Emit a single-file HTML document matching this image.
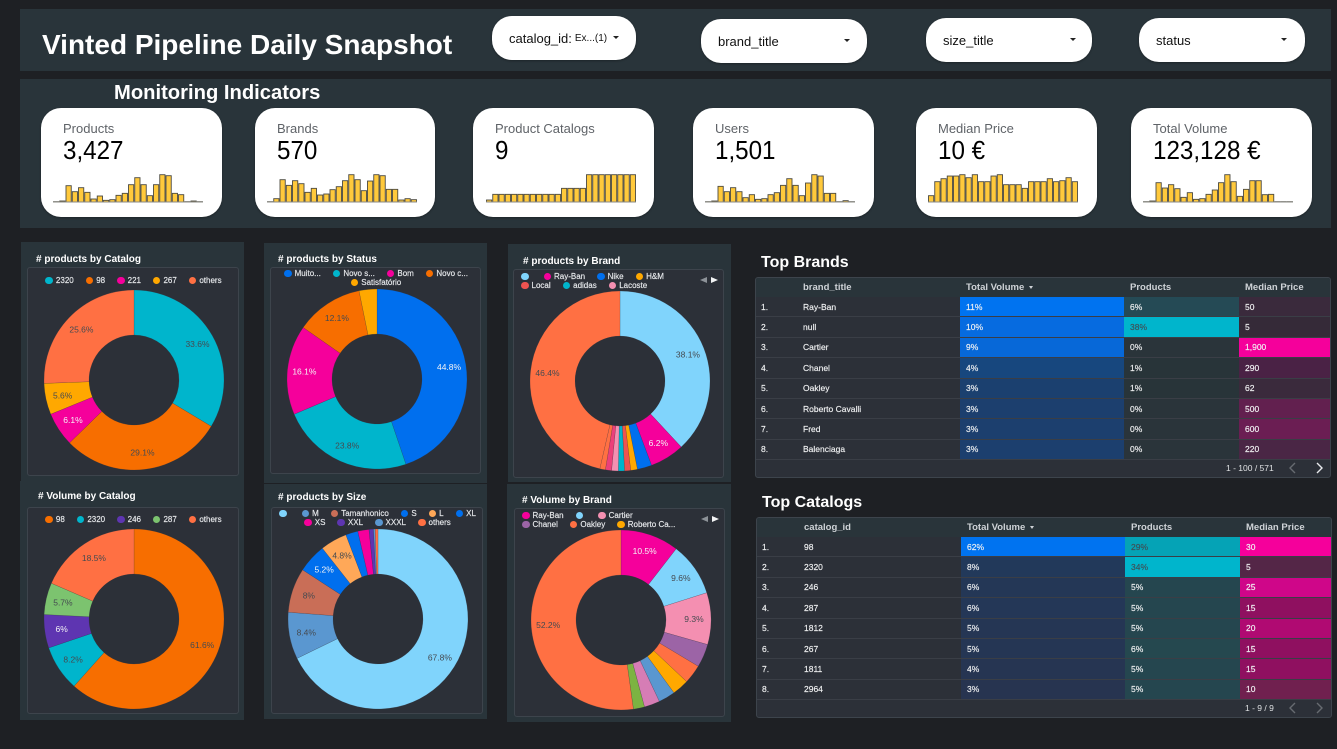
<!DOCTYPE html>
<html lang="en">
<head>
<meta charset="utf-8">
<title>Vinted Pipeline Daily Snapshot</title>
<style>
html,body{margin:0;padding:0;width:1337px;height:749px;overflow:hidden;background:#1e2024;font-family:"Liberation Sans",sans-serif;}
.abs{position:absolute;}
.band{position:absolute;background:#29343a;}
.page-title{position:absolute;left:42px;top:28px;font-size:28px;line-height:34px;font-weight:bold;color:#fff;white-space:nowrap;}
.section-title{position:absolute;left:114px;top:81px;font-size:20.2px;line-height:24px;font-weight:bold;color:#fff;white-space:nowrap;}
.filter{position:absolute;background:#fff;border-radius:20px;color:#111;font-size:13px;box-shadow:0 1px 2px rgba(0,0,0,.3);}
.filter .txt{position:absolute;left:17px;top:0;bottom:0;display:flex;align-items:center;white-space:nowrap;}
.filter .small{font-size:10px;margin-left:3px;}
.caret{position:absolute;width:0;height:0;border-left:3px solid transparent;border-right:3px solid transparent;border-top:3px solid #222;top:50%;margin-top:-2px;}
.card{position:absolute;top:108px;width:181px;height:109px;background:#fff;border-radius:20px;box-shadow:0 1px 2px rgba(0,0,0,.3);}
.card .lbl{position:absolute;left:22px;top:13px;font-size:13px;line-height:15px;color:#5f6368;white-space:nowrap;}
.card .val{position:absolute;left:22px;top:27px;font-size:26px;line-height:30px;color:#000;white-space:nowrap;transform:scaleX(.93);transform-origin:left center;}
.panel{position:absolute;background:#29343a;}
.inner{position:absolute;background:#2c3038;border:1px solid #3d444c;border-radius:3px;box-sizing:border-box;}
.chart-title{position:absolute;font-size:10px;line-height:12px;font-weight:bold;color:#fff;white-space:nowrap;}
#chart-layer{position:absolute;left:0;top:0;}
.legend{position:absolute;font-size:8px;line-height:9px;color:#e8eaed;-webkit-text-stroke:.15px #e8eaed;}
.legend-row{display:flex;height:9px;align-items:center;gap:12px;white-space:nowrap;}
.legend-entry{display:flex;align-items:center;gap:3px;}
.legend-swatch{width:7.5px;height:7.5px;border-radius:50%;display:block;flex:none;}
.nav{position:absolute;width:0;height:0;border-top:3.5px solid transparent;border-bottom:3.5px solid transparent;}
.nav.l{border-right:7px solid #8d9298;}
.nav.r{border-left:7px solid #f2f3f4;}
.tbl-title{position:absolute;font-size:16px;line-height:20px;font-weight:bold;color:#fff;white-space:nowrap;}
.tbl-box{position:absolute;width:576px;height:201px;background:#2c3038;border:1px solid #3d444c;border-radius:3px;box-sizing:border-box;overflow:hidden;}
.tbl-box table{border-collapse:separate;border-spacing:0;table-layout:fixed;width:574px;position:absolute;left:0;top:0;}
.tbl-box th{height:19px;box-sizing:border-box;background:#29343a;color:#cfd3d7;font-size:9.5px;font-weight:bold;text-align:left;padding:0 0 0 6px;}
.tbl-box td{height:20.4px;box-sizing:border-box;font-size:8.5px;color:#f1f2f3;padding:0 0 0 6px;border-bottom:1px solid #3a3e46;white-space:nowrap;-webkit-text-stroke:.15px #f1f2f3;}
.tbl-box td.n{padding-left:5px;}
.tbl-box th.n{padding-left:5px;}
.tbl-box td.k,.tbl-box th.k{padding-left:0;}
.tbl-box td.d{color:#3f4f56;-webkit-text-stroke:.15px #3f4f56;}
.sort{display:inline-block;width:0;height:0;border-left:2.5px solid transparent;border-right:2.5px solid transparent;border-top:3px solid #cfd3d7;margin-left:5px;vertical-align:1px;}
.pager{position:absolute;font-size:8.5px;line-height:12px;color:#dfe1e3;white-space:nowrap;}
.chev{position:absolute;}
</style>
</head>
<body>

<div class="band" style="left:20px;top:9px;width:1311px;height:62px"></div>
<div class="page-title">Vinted Pipeline Daily Snapshot</div>

<div class="filter" style="left:492px;top:16px;width:144px;height:44px">
  <div class="txt">catalog_id:<span class="small">Ex...(1)</span></div>
  <div class="caret" style="left:121px"></div>
</div>
<div class="filter" style="left:701px;top:19px;width:166px;height:44px">
  <div class="txt">brand_title</div>
  <div class="caret" style="left:143px"></div>
</div>
<div class="filter" style="left:926px;top:18px;width:166px;height:44px">
  <div class="txt">size_title</div>
  <div class="caret" style="left:144px"></div>
</div>
<div class="filter" style="left:1139px;top:18px;width:166px;height:44px">
  <div class="txt">status</div>
  <div class="caret" style="left:142px"></div>
</div>

<div class="band" style="left:20px;top:79px;width:1311px;height:149px"></div>
<div class="section-title">Monitoring Indicators</div>

<div class="card" style="left:41px"><div class="lbl">Products</div><div class="val">3,427</div></div>
<div class="card" style="left:255px;width:180px"><div class="lbl">Brands</div><div class="val">570</div></div>
<div class="card" style="left:473px"><div class="lbl">Product Catalogs</div><div class="val">9</div></div>
<div class="card" style="left:693px"><div class="lbl">Users</div><div class="val">1,501</div></div>
<div class="card" style="left:916px"><div class="lbl">Median Price</div><div class="val">10 €</div></div>
<div class="card" style="left:1131px"><div class="lbl">Total Volume</div><div class="val">123,128 €</div></div>

<!-- donut panels -->
<div class="panel" style="left:21px;top:242px;width:223px;height:239px"></div>
<div class="inner" style="left:27px;top:267px;width:212px;height:209px"></div>
<div class="chart-title" style="left:36px;top:254px"># products by Catalog</div>

<div class="panel" style="left:264px;top:243px;width:223px;height:240px"></div>
<div class="inner" style="left:270px;top:267px;width:211px;height:207px"></div>
<div class="chart-title" style="left:278px;top:254px"># products by Status</div>

<div class="panel" style="left:508px;top:244px;width:223px;height:238px"></div>
<div class="inner" style="left:513px;top:269px;width:211px;height:209px"></div>
<div class="chart-title" style="left:523px;top:256px"># products by Brand</div>
<div class="nav l" style="left:700px;top:277px"></div>
<div class="nav r" style="left:711px;top:277px"></div>

<div class="panel" style="left:20px;top:481px;width:224px;height:239px"></div>
<div class="inner" style="left:27px;top:507px;width:212px;height:207px"></div>
<div class="chart-title" style="left:38px;top:491px"># Volume by Catalog</div>

<div class="panel" style="left:264px;top:484px;width:223px;height:235px"></div>
<div class="inner" style="left:271px;top:507px;width:212px;height:207px"></div>
<div class="chart-title" style="left:278px;top:492px"># products by Size</div>

<div class="panel" style="left:507px;top:484px;width:224px;height:238px"></div>
<div class="inner" style="left:514px;top:508px;width:211px;height:209px"></div>
<div class="chart-title" style="left:522px;top:495px"># Volume by Brand</div>
<div class="nav l" style="left:701px;top:516px"></div>
<div class="nav r" style="left:712px;top:516px"></div>

<svg id="chart-layer" width="1337" height="749" viewBox="0 0 1337 749"></svg>

<!-- Top Brands table -->
<div class="tbl-title" style="left:761px;top:253px">Top Brands</div>
<div class="tbl-box" style="left:755px;top:277px">
<table>
<colgroup><col style="width:47px"><col style="width:157px"><col style="width:164px"><col style="width:115px"><col style="width:91px"></colgroup>
<tr><th class="n"></th><th class="k">brand_title</th><th>Total Volume<span class="sort"></span></th><th>Products</th><th>Median Price</th></tr>
<tr><td class="n">1.</td><td class="k">Ray-Ban</td><td style="background:#0073f0">11%</td><td style="background:#254a55">6%</td><td style="background:#3a2a3c">50</td></tr>
<tr><td class="n">2.</td><td class="k">null</td><td style="background:#066be0">10%</td><td class="d" style="background:#00b5cc">38%</td><td style="background:#352a38">5</td></tr>
<tr><td class="n">3.</td><td class="k">Cartier</td><td style="background:#0768d8">9%</td><td style="background:#2a343a">0%</td><td style="background:#f5009b">1,900</td></tr>
<tr><td class="n">4.</td><td class="k">Chanel</td><td style="background:#17477e">4%</td><td style="background:#283439">1%</td><td style="background:#4a2245">290</td></tr>
<tr><td class="n">5.</td><td class="k">Oakley</td><td style="background:#1b406f">3%</td><td style="background:#283439">1%</td><td style="background:#3a2a3c">62</td></tr>
<tr><td class="n">6.</td><td class="k">Roberto Cavalli</td><td style="background:#1c3f6e">3%</td><td style="background:#2a343a">0%</td><td style="background:#62204f">500</td></tr>
<tr><td class="n">7.</td><td class="k">Fred</td><td style="background:#1c3f6e">3%</td><td style="background:#2a343a">0%</td><td style="background:#6b1e53">600</td></tr>
<tr><td class="n">8.</td><td class="k">Balenciaga</td><td style="background:#1c3f6e">3%</td><td style="background:#2a343a">0%</td><td style="background:#4a2645">220</td></tr>
</table>
<div class="pager" style="left:470px;top:184px">1 - 100 / 571</div>
<svg class="chev" style="left:532px;top:184px" width="10" height="12"><polyline points="7,1 2,6 7,11" fill="none" stroke="#676b71" stroke-width="1.4"/></svg>
<svg class="chev" style="left:558px;top:184px" width="10" height="12"><polyline points="3,1 8,6 3,11" fill="none" stroke="#e8eaed" stroke-width="1.4"/></svg>
</div>

<!-- Top Catalogs table -->
<div class="tbl-title" style="left:762px;top:493px">Top Catalogs</div>
<div class="tbl-box" style="left:756px;top:517px">
<table>
<colgroup><col style="width:47px"><col style="width:157px"><col style="width:164px"><col style="width:115px"><col style="width:91px"></colgroup>
<tr><th class="n"></th><th class="k">catalog_id</th><th>Total Volume<span class="sort"></span></th><th>Products</th><th>Median Price</th></tr>
<tr><td class="n">1.</td><td class="k">98</td><td style="background:#0073f0">62%</td><td class="d" style="background:#05a3b6">29%</td><td style="background:#f5009b">30</td></tr>
<tr><td class="n">2.</td><td class="k">2320</td><td style="background:#22395a">8%</td><td class="d" style="background:#00b5cc">34%</td><td style="background:#542647">5</td></tr>
<tr><td class="n">3.</td><td class="k">246</td><td style="background:#243756">6%</td><td style="background:#25464f">5%</td><td style="background:#cf0689">25</td></tr>
<tr><td class="n">4.</td><td class="k">287</td><td style="background:#243757">6%</td><td style="background:#25464f">5%</td><td style="background:#8f1060">15</td></tr>
<tr><td class="n">5.</td><td class="k">1812</td><td style="background:#253654">5%</td><td style="background:#25464f">5%</td><td style="background:#b00a72">20</td></tr>
<tr><td class="n">6.</td><td class="k">267</td><td style="background:#253654">5%</td><td style="background:#25484f">6%</td><td style="background:#8f1060">15</td></tr>
<tr><td class="n">7.</td><td class="k">1811</td><td style="background:#263552">4%</td><td style="background:#25464f">5%</td><td style="background:#8f1060">15</td></tr>
<tr><td class="n">8.</td><td class="k">2964</td><td style="background:#273450">3%</td><td style="background:#25464f">5%</td><td style="background:#70204f">10</td></tr>
</table>
<div class="pager" style="left:488px;top:184px">1 - 9 / 9</div>
<svg class="chev" style="left:531px;top:184px" width="10" height="12"><polyline points="7,1 2,6 7,11" fill="none" stroke="#676b71" stroke-width="1.4"/></svg>
<svg class="chev" style="left:557px;top:184px" width="10" height="12"><polyline points="3,1 8,6 3,11" fill="none" stroke="#676b71" stroke-width="1.4"/></svg>
</div>

<script>
// ---- sparkline data (daily relative counts) ----
const sparkProducts = [1,3,49,31,43,29,9,18,5,7,20,26,52,73,52,19,52,82,79,26,22,1,3,1];
const sparkBrands = [1,10,67,50,64,55,29,41,21,24,37,46,64,82,67,34,63,82,79,38,38,6,10,7];
const sparkCatalogs = [6,23,23,23,23,23,23,23,23,23,23,23,41,41,41,41,82,82,82,82,82,82,82,82];
const sparkUsers = [1,3,47,31,43,31,13,22,8,10,22,28,50,70,50,19,57,82,78,26,26,1,4,1];
const sparkMedian = [19,61,70,78,78,82,73,82,61,61,78,82,52,52,52,41,61,61,61,70,61,64,73,61];
const sparkVolume = [1,3,58,42,52,40,14,28,8,10,23,36,58,82,61,17,38,64,64,22,23,1,1,1];

// ---- donut data ----
const catalogProductLabels = ['2320','98','221','267','others'];
const catalogProductValues = [33.6,29.1,6.1,5.6,25.6];
const statusLabels = ['Muito...','Novo s...','Bom','Novo c...','Satisfatório'];
const statusValues = [44.8,23.8,16.1,12.1,3.2];
const brandProductLabels = ['','Ray-Ban','Nike','H&M','Local','adidas','Lacoste','brand-8','brand-9','others'];
const brandProductValues = [38.1,6.2,2.6,1.2,1.1,1.1,1.2,1.1,1.0,46.4];
const catalogVolumeLabels = ['98','2320','246','287','others'];
const catalogVolumeValues = [61.6,8.2,6,5.7,18.5];
const sizeLabels = ['','M','Tamanhonico','S','L','XL','XS','XXL','XXXL','others'];
const sizeValues = [67.8,8.4,8,5.2,4.8,2.2,2,0.8,0.3,0.5];
const brandVolumeLabels = ['Ray-Ban','','Cartier','Chanel','Oakley','Roberto Ca...','Fred','Balenciaga','brand-9','brand-10','others'];
const brandVolumeValues = [10.5,9.6,9.3,4.2,3.4,3,3,2.8,2,0,52.2];

// ---- style palette (separate from data) ----
const TEAL='#00b5cc',ORANGE='#f76e00',MAGENTA='#f5009b',AMBER='#ffa800',CORAL='#ff7043',BLUE='#006fee',SKY='#80d4fc',PURPLE='#5e35b1',GREEN='#7cc36f',STEEL='#5a97d0',BRICK='#c96e57',PEACH='#ffa858',ROSE='#f48fb1',RED='#ef5350',HOT='#ec407a',MAUVE='#9c64a6',ORCHID='#d67db5',LEAF='#7cb342';
const WHITE_LABEL_ON = [MAGENTA,BLUE,PURPLE];
const catalogProductColors = [TEAL,ORANGE,MAGENTA,AMBER,CORAL];
const statusColors = [BLUE,TEAL,MAGENTA,ORANGE,AMBER];
const brandProductColors = [SKY,MAGENTA,BLUE,AMBER,RED,TEAL,ROSE,HOT,CORAL,CORAL];
const catalogVolumeColors = [ORANGE,TEAL,PURPLE,GREEN,CORAL];
const sizeColors = [SKY,STEEL,BRICK,BLUE,PEACH,BLUE,MAGENTA,PURPLE,STEEL,CORAL];
const brandVolumeColors = [MAGENTA,SKY,ROSE,MAUVE,CORAL,AMBER,STEEL,ORCHID,LEAF,CORAL,CORAL];

const SVGNS = 'http://www.w3.org/2000/svg';
const layer = document.getElementById('chart-layer');

function drawSparkline(values, left) {
  const width = 150, baseline = 202, height = 27.3;
  const step = width / values.length;
  const maxValue = Math.max.apply(null, values);
  const xBand = function (i) { return left + i * step; };
  const yLinear = function (v) { return baseline - (v / maxValue) * height; };
  const g = document.createElementNS(SVGNS, 'g');
  
  
  values.forEach(function (v, i) {
    const bar = document.createElementNS(SVGNS, 'rect');
    
    
    bar.setAttribute('x', xBand(i) + 0.5);
    bar.setAttribute('y', yLinear(v));
    bar.setAttribute('width', step - 1);
    bar.setAttribute('height', baseline - yLinear(v));
    bar.setAttribute('fill', '#ffc93c');
    bar.setAttribute('stroke', '#4c4a40');
    bar.setAttribute('stroke-width', '.9');
    g.appendChild(bar);
  });
  const axis = document.createElementNS(SVGNS, 'line');
  
  
  axis.setAttribute('x1', left);
  axis.setAttribute('x2', left + width);
  axis.setAttribute('y1', baseline);
  axis.setAttribute('y2', baseline);
  axis.setAttribute('stroke', '#8b8b86');
  axis.setAttribute('stroke-width', '1');
  g.appendChild(axis);
  layer.appendChild(g);
}

function drawDonut(labels, values, colors, cx, cy) {
  const R = 90, r = 45, labelR = 73;
  const total = values.reduce(function (a, b) { return a + b; }, 0);
  const angleOf = function (v) { return v / total * Math.PI * 2; };
  const px = function (rad, a) { return (cx + rad * Math.sin(a)).toFixed(2); };
  const py = function (rad, a) { return (cy - rad * Math.cos(a)).toFixed(2); };
  const g = document.createElementNS(SVGNS, 'g');
  
  
  let cum = 0;
  values.forEach(function (v, i) {
    if (v <= 0) { return; }
    const a0 = angleOf(cum), a1 = angleOf(cum + v);
    const large = (a1 - a0) > Math.PI ? 1 : 0;
    const slice = document.createElementNS(SVGNS, 'path');
    
    
    slice.setAttribute('d', 'M' + px(R, a0) + ' ' + py(R, a0) + 'A' + R + ' ' + R + ' 0 ' + large + ' 1 ' + px(R, a1) + ' ' + py(R, a1) +
      'L' + px(r, a1) + ' ' + py(r, a1) + 'A' + r + ' ' + r + ' 0 ' + large + ' 0 ' + px(r, a0) + ' ' + py(r, a0) + 'Z');
    slice.setAttribute('fill', colors[i]);
    slice.setAttribute('stroke', 'rgba(50,50,60,.35)');
    slice.setAttribute('stroke-width', '.5');
    g.appendChild(slice);
    cum += v;
  });
  cum = 0;
  values.forEach(function (v, i) {
    const share = v / total * 100;
    const mid = angleOf(cum + v / 2);
    cum += v;
    if (share < 4.5) { return; }
    const label = document.createElementNS(SVGNS, 'text');
    
    
    label.setAttribute('x', px(labelR, mid));
    label.setAttribute('y', (cy - labelR * Math.cos(mid) + 3).toFixed(2));
    label.setAttribute('text-anchor', 'middle');
    label.setAttribute('font-size', '8.5');
    label.setAttribute('fill', WHITE_LABEL_ON.indexOf(colors[i]) >= 0 ? '#f4f4f6' : '#454a50');
    label.textContent = (+share.toFixed(1)) + '%';
    g.appendChild(label);
  });
  layer.appendChild(g);
}

function drawLegend(labels, colors, rowCounts, top, left, width, centered) {
  const legend = document.createElement('div');
  
  
  legend.className = 'legend';
  legend.style.left = left + 'px';
  legend.style.top = top + 'px';
  legend.style.width = width + 'px';
  let idx = 0;
  rowCounts.forEach(function (count) {
    const row = document.createElement('div');
    
    
    row.className = 'legend-row';
    row.style.justifyContent = centered ? 'center' : 'flex-start';
    for (let k = 0; k < count; k++, idx++) {
      const entry = document.createElement('div');
      
      
      entry.className = 'legend-entry';
      const swatch = document.createElement('span');
      
      
      swatch.className = 'legend-swatch';
      swatch.style.background = colors[idx];
      const text = document.createElement('span');
      
      
      text.textContent = labels[idx];
      entry.appendChild(swatch);
      entry.appendChild(text);
      row.appendChild(entry);
    }
    legend.appendChild(row);
  });
  document.body.appendChild(legend);
}

drawSparkline(sparkProducts, 53);
drawSparkline(sparkBrands, 267);
drawSparkline(sparkCatalogs, 486);
drawSparkline(sparkUsers, 705);
drawSparkline(sparkMedian, 928);
drawSparkline(sparkVolume, 1143);

drawDonut(catalogProductLabels, catalogProductValues, catalogProductColors, 134, 380);
drawLegend(catalogProductLabels, catalogProductColors, [5], 276, 28, 211, true);

drawDonut(statusLabels, statusValues, statusColors, 377, 379);
drawLegend(statusLabels, statusColors, [4, 1], 269, 271, 210, true);

drawDonut(brandProductLabels, brandProductValues, brandProductColors, 620, 381);
drawLegend(brandProductLabels, brandProductColors, [4, 3], 272, 521, 180, false);

drawDonut(catalogVolumeLabels, catalogVolumeValues, catalogVolumeColors, 134, 619);
drawLegend(catalogVolumeLabels, catalogVolumeColors, [5], 515, 28, 211, true);

drawDonut(sizeLabels, sizeValues, sizeColors, 378, 619);
drawLegend(sizeLabels, sizeColors, [6, 4], 509, 272, 211, true);

drawDonut(brandVolumeLabels, brandVolumeValues, brandVolumeColors, 621, 620);
drawLegend(brandVolumeLabels, brandVolumeColors, [3, 3], 511, 522, 180, false);
</script>
</body>
</html>
